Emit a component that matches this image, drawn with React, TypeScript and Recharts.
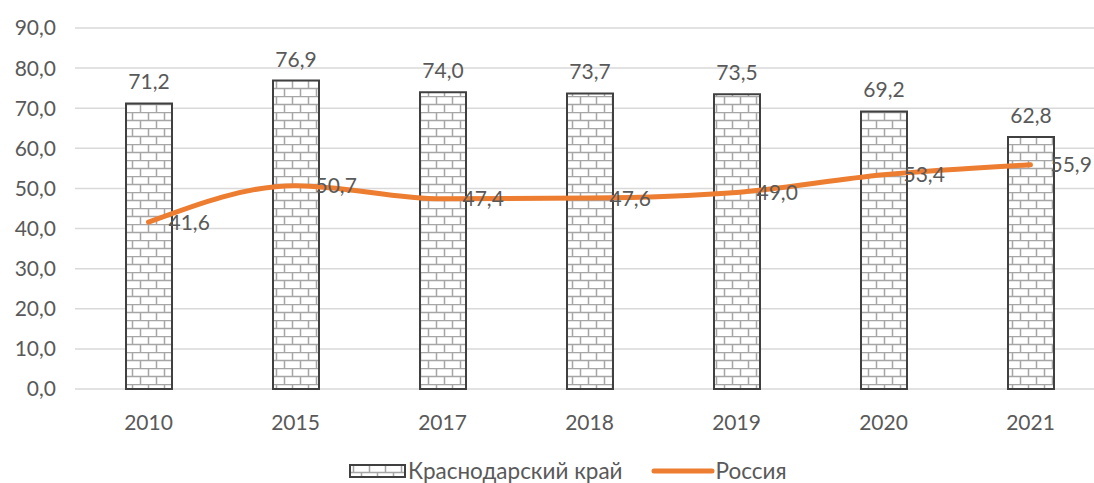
import React from "react";
import { ComposedChart, Bar, Line, XAxis, YAxis, CartesianGrid, LabelList } from "recharts";

const years = ["2010", "2015", "2017", "2018", "2019", "2020", "2021"];
const krasnodar = [71.2, 76.9, 74.0, 73.7, 73.5, 69.2, 62.8];
const russia = [41.6, 50.7, 47.4, 47.6, 49.0, 53.4, 55.9];
const yTicks = [0, 10, 20, 30, 40, 50, 60, 70, 80, 90];

const data = years.map((y, i) => ({ year: y, krasnodar: krasnodar[i], russia: russia[i] }));

const FONT = "Lato, 'Noto Sans', sans-serif";
const TEXT = "#595959";
const FS = 21;
const fmt = (v: number) => v.toFixed(1).replace(".", ",");

function ChartLegend() {
    return (
        <div style={{ position: "absolute", left: 349, top: 457, display: "flex", alignItems: "center", fontFamily: FONT, fontSize: 22.5, color: TEXT, whiteSpace: "nowrap" }}>
            <svg width={57} height={14} style={{ marginRight: 2 }}>
                <rect x={1} y={1} width={55} height={12} fill="url(#brick)" stroke="#404040" strokeWidth={2} />
            </svg>
            <span>Краснодарский край</span>
            <svg width={64} height={14} style={{ marginLeft: 28, marginRight: 1 }}>
                <line x1={3} y1={7} x2={61} y2={7} stroke="#ED7D31" strokeWidth={5} strokeLinecap="round" />
            </svg>
            <span>Россия</span>
        </div>
    );
}

export default function App() {
    return (
        <div style={{ position: "absolute", left: 0, top: 0, width: 1094, height: 483, overflow: "hidden", background: "#fff" }}>
            <ComposedChart width={1110} height={483} data={data} margin={{ top: 28, right: 6, left: 0, bottom: 54 }}>
                <defs>
                    <pattern id="brick" patternUnits="userSpaceOnUse" width={16} height={16}>
                        <rect x={0} y={0} width={16} height={16} fill="#fff" />
                        <path d="M0 0.5 H16 M0 8.5 H16 M4.5 0.5 V8.5 M12.5 8.5 V16.5" stroke="#a6a6a6" strokeWidth={1.5} fill="none" />
                    </pattern>
                </defs>
                <CartesianGrid vertical={false} stroke="#d9d9d9" strokeWidth={1.5} />
                <XAxis dataKey="year" axisLine={false} tickLine={false} tick={{ fill: TEXT, fontSize: FS, fontFamily: FONT }} dy={18} height={40} />
                <YAxis domain={[0, 90]} ticks={yTicks} tickFormatter={fmt} axisLine={false} tickLine={false} width={75} dx={-11} tick={{ fill: TEXT, fontSize: FS, fontFamily: FONT }} interval={0} />
                <Bar dataKey="krasnodar" fill="url(#brick)" stroke="#404040" strokeWidth={2} barSize={46} isAnimationActive={false}>
                    <LabelList dataKey="krasnodar" position="top" offset={14} fill={TEXT} formatter={(v: any) => fmt(Number(v))} style={{ fill: TEXT, fontSize: FS, fontFamily: FONT }} />
                </Bar>
                <Line dataKey="russia" type="monotone" stroke="#ED7D31" strokeWidth={5} dot={false} strokeLinecap="round" isAnimationActive={false}>
                    <LabelList dataKey="russia" position="right" offset={20} fill={TEXT} formatter={(v: any) => fmt(Number(v))} style={{ fill: TEXT, fontSize: FS, fontFamily: FONT }} />
                </Line>
            </ComposedChart>
            <ChartLegend />
        </div>
    );
}
